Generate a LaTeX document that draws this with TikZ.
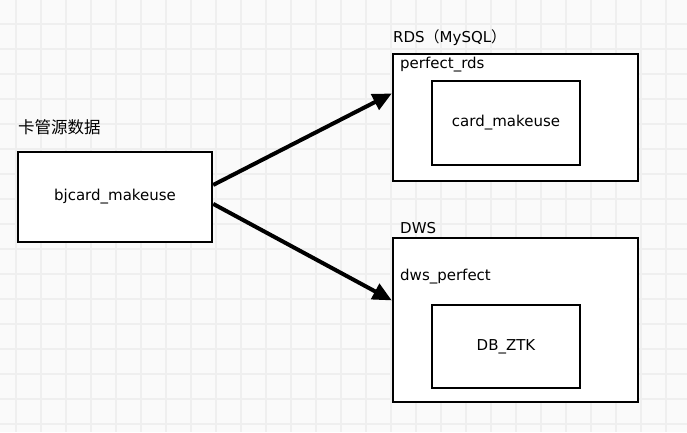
\documentclass[tikz,border=0pt]{standalone}
\usepackage{fontspec}
\setmainfont{DejaVu Sans}
\newfontfamily\cjk{Noto Sans CJK SC}
\usepackage{xcolor}
\usetikzlibrary{arrows.meta,positioning,calc}

\definecolor{paper}{HTML}{FAFAFA}
\definecolor{gridgray}{HTML}{EFEFEF}

\begin{document}
\begin{tikzpicture}[
    x=1pt, y=-1pt,
    font=\fontsize{15}{17}\selectfont,
    store/.style={rectangle, draw, line width=2.4pt, fill=white, inner sep=0pt},
    lbl/.style={anchor=west, inner sep=0pt},
    arrow/.style={-{Triangle[length=19pt,width=17pt]}, line width=4pt}
]
    % background grid
    \fill[paper] (0,0) rectangle (687,432);
    \useasboundingbox (0,0) rectangle (687,432);
    \foreach \gx in {16,41,...,686}
        \draw[gridgray, line width=1.6pt] (\gx,0) -- (\gx,432);
    \foreach \gy in {24,49,...,431}
        \draw[gridgray, line width=1.6pt] (0,\gy) -- (687,\gy);

    % source table
    \node[store, minimum width=194pt, minimum height=90pt] (bj) at (115,197) {bjcard\_makeuse};
    \node[lbl] (srclbl) at (18,127) {\cjk\fontsize{16.5}{18}\selectfont 卡管源数据};

    % RDS
    \node[store, minimum width=245pt, minimum height=127pt] (rds) at (515.5,117.5) {};
    \node[store, minimum width=148pt, minimum height=84pt] (card) at (506,123) {card\_makeuse};
    \node[lbl] (rdslbl) at (393,38) {RDS{\cjk （}MySQL{\cjk ）}};
    \node[lbl] (rdsdb) at (400,65) {perfect\_rds};

    % DWS
    \node[store, minimum width=245pt, minimum height=164pt] (dws) at (515.5,320) {};
    \node[store, minimum width=148pt, minimum height=83pt] (ztk) at (506,346.5) {DB\_ZTK};
    \node[lbl] (dwslbl) at (400,228) {DWS};
    \node[lbl] (dwsdb) at (400,277) {dws\_perfect};

    \draw[arrow] (bj.7) -- (rds.169);
    \draw[arrow] (bj.-4) -- (dws.171);
\end{tikzpicture}
\end{document}
